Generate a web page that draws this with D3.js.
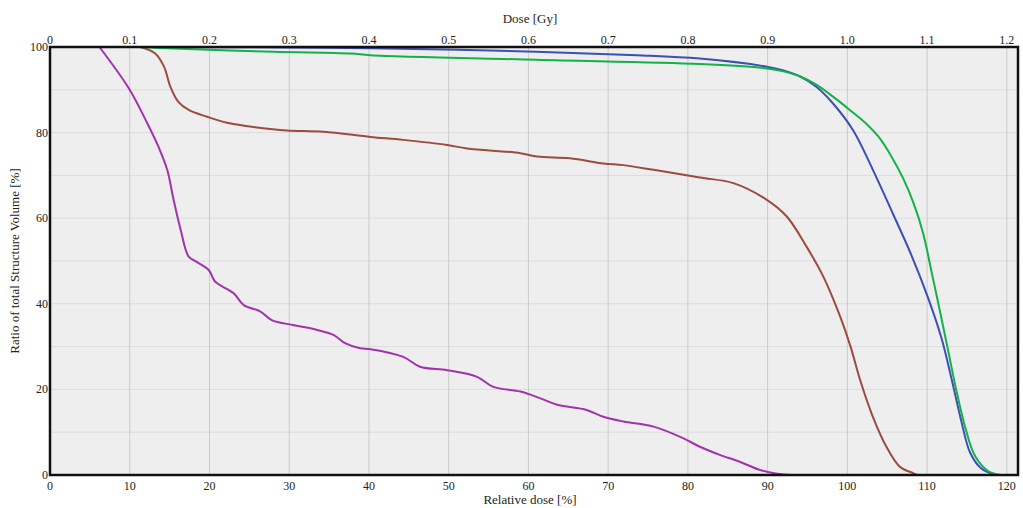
<!DOCTYPE html>
<html lang="en">
<head>
<meta charset="UTF-8">
<title>DVH</title>
<script src="https://d3js.org/d3.v7.min.js"></script>
<style>
  body { margin: 0; background: #fff; }
  text { font-family: "Liberation Serif", "DejaVu Serif", serif; fill: #222; }
</style>
</head>
<body>
<div id="chart"></div>
<script>

// tick labels
const relTicks = d3.range(0, 121, 10);
const gyTicks = ["0", "0.1", "0.2", "0.3", "0.4", "0.5", "0.6", "0.7", "0.8", "0.9", "1.0", "1.1", "1.2"];
const volTicks = [0, 20, 40, 60, 80, 100];

// curves: relative dose [%] / volume [%]
const purpleDose = [6.2, 9.9, 12.2, 13.6, 14.7, 15.5, 16.4, 17.4, 18.4, 19.9, 20.7, 23.0, 24.3, 26.4, 27.8, 30.6, 33.5, 35.6, 37.0, 38.9, 40.2, 44.3, 46.4, 49.8, 53.5, 55.6, 59.0, 61.5, 63.6, 67.3, 69.4, 71.9, 75.7, 79.4, 81.5, 84.0, 86.5, 89.0, 91.2, 93.0];
const purpleVol  = [100, 90.3, 82.2, 76.7, 71.3, 64.3, 57.2, 51.0, 49.8, 47.9, 45.2, 42.5, 39.7, 38.2, 36.2, 35.0, 33.9, 32.7, 30.8, 29.6, 29.4, 27.6, 25.3, 24.5, 23.0, 20.6, 19.5, 17.9, 16.4, 15.2, 13.6, 12.5, 11.3, 8.6, 6.6, 4.7, 3.1, 1.2, 0.3, 0];

const brownDose = [11.3, 13.2, 14.3, 15.1, 16.1, 17.4, 19.7, 22.2, 26.0, 29.7, 34.3, 40.2, 44.3, 49.8, 52.3, 59.0, 61.1, 65.2, 69.4, 71.9, 75.7, 81.5, 85.7, 89.9, 92.4, 94.9, 97.0, 99.1, 100.4, 101.6, 103.2, 104.9, 106.6, 108.3, 108.8];
const brownVol  = [100, 98.5, 95.4, 90.7, 87.2, 85.3, 83.7, 82.3, 81.2, 80.5, 80.2, 79.0, 78.3, 77.1, 76.3, 75.2, 74.4, 74.0, 72.8, 72.4, 71.3, 69.5, 68.2, 64.3, 60.4, 53.3, 46.3, 37.0, 30.0, 22.2, 13.6, 6.6, 1.9, 0.4, 0];

const blueDose = [12.0, 30.0, 40.2, 61.0, 73.6, 81.5, 89.9, 92.0, 94.1, 96.1, 98.2, 100.7, 103.2, 105.7, 108.0, 110.1, 111.8, 113.1, 114.3, 115.4, 116.8, 118.5];
const blueVol  = [100, 99.9, 99.7, 98.9, 98.1, 97.3, 95.4, 94.5, 93.1, 90.7, 86.8, 80.6, 71.3, 61.1, 51.5, 41.5, 32.0, 22.2, 12.5, 5.2, 1.5, 0];

const greenDose = [11.5, 14.7, 28.0, 37.7, 40.2, 61.0, 81.5, 89.9, 92.0, 94.1, 96.1, 98.2, 100.3, 102.4, 104.0, 105.5, 107.0, 108.3, 109.5, 110.6, 111.7, 112.7, 113.7, 114.8, 116.0, 117.6, 119.2];
const greenVol  = [100, 99.7, 98.9, 98.5, 98.1, 97.0, 96.0, 95.0, 94.3, 93.1, 91.2, 88.4, 85.3, 82.0, 78.8, 74.5, 69.3, 63.5, 56.5, 47.1, 37.5, 28.5, 19.5, 11.0, 4.5, 1.0, 0];

const series = [
  { color: "#a232ad", dose: purpleDose, vol: purpleVol },
  { color: "#9c4b3e", dose: brownDose, vol: brownVol },
  { color: "#3b4fb5", dose: blueDose, vol: blueVol },
  { color: "#14b14a", dose: greenDose, vol: greenVol }
];

const width = 1023, height = 508;
const plotL = 50, plotR = 1018, plotT = 47, plotB = 475;

const svg = d3.select("#chart").append("svg")
  .attr("width", width)
  .attr("height", height);

const x = d3.scaleLinear().domain([0, 121.4]).range([plotL, plotR]);
const y = d3.scaleLinear().domain([0, 100]).range([plotB, plotT]);

// plot background
svg.append("rect")
  .attr("x", plotL).attr("y", plotT)
  .attr("width", plotR - plotL).attr("height", plotB - plotT)
  .attr("fill", "#eeeeee");

// grid
svg.append("g").selectAll("line")
  .data(d3.range(10, 100, 10))
  .join("line")
    .attr("x1", plotL).attr("x2", plotR)
    .attr("y1", d => y(d)).attr("y2", d => y(d))
    .attr("stroke", "#dcdcdc")
    .attr("stroke-width", 1);

svg.append("g").selectAll("line")
  .data(relTicks.slice(1))
  .join("line")
    .attr("x1", d => x(d)).attr("x2", d => x(d))
    .attr("y1", plotT).attr("y2", plotB)
    .attr("stroke", "#cbcbcb")
    .attr("stroke-width", 1);

// curves (centripetal Catmull-Rom keeps the steep and flat parts smooth)
const line = d3.line()
  .x(d => x(d[0]))
  .y(d => y(d[1]))
  .curve(d3.curveCatmullRom.alpha(0.5));

svg.append("g").selectAll("path")
  .data(series)
  .join("path")
    .attr("d", s => line(s.dose.map((d, i) => [d, s.vol[i]])))
    .attr("fill", "none")
    .attr("stroke", s => s.color)
    .attr("stroke-width", 2);

// frame
svg.append("rect")
  .attr("x", plotL).attr("y", plotT)
  .attr("width", plotR - plotL).attr("height", plotB - plotT)
  .attr("fill", "none")
  .attr("stroke", "#111")
  .attr("stroke-width", 2.5);

// bottom axis labels
svg.append("g").selectAll("text")
  .data(relTicks)
  .join("text")
    .attr("x", d => x(d))
    .attr("y", plotB + 15)
    .attr("text-anchor", "middle")
    .style("font-size", "12px")
    .text(d => d);

// top axis labels (Gy)
svg.append("g").selectAll("text")
  .data(gyTicks)
  .join("text")
    .attr("x", (d, i) => x(relTicks[i]))
    .attr("y", plotT - 3)
    .attr("text-anchor", "middle")
    .style("font-size", "12px")
    .text(d => d);

// left axis labels
svg.append("g").selectAll("text")
  .data(volTicks)
  .join("text")
    .attr("x", plotL - 2)
    .attr("y", d => y(d) + 4)
    .attr("text-anchor", "end")
    .style("font-size", "12px")
    .text(d => d);

// axis titles
svg.append("text")
  .attr("x", 530).attr("y", 504)
  .attr("text-anchor", "middle")
  .style("font-size", "13px")
  .text("Relative dose [%]");

svg.append("text")
  .attr("x", 530).attr("y", 23)
  .attr("text-anchor", "middle")
  .style("font-size", "13px")
  .text("Dose [Gy]");

svg.append("text")
  .attr("transform", "translate(19," + (plotT + plotB) / 2 + ") rotate(-90)")
  .attr("text-anchor", "middle")
  .style("font-size", "13px")
  .text("Ratio of total Structure Volume [%]");

</script>
</body>
</html>
